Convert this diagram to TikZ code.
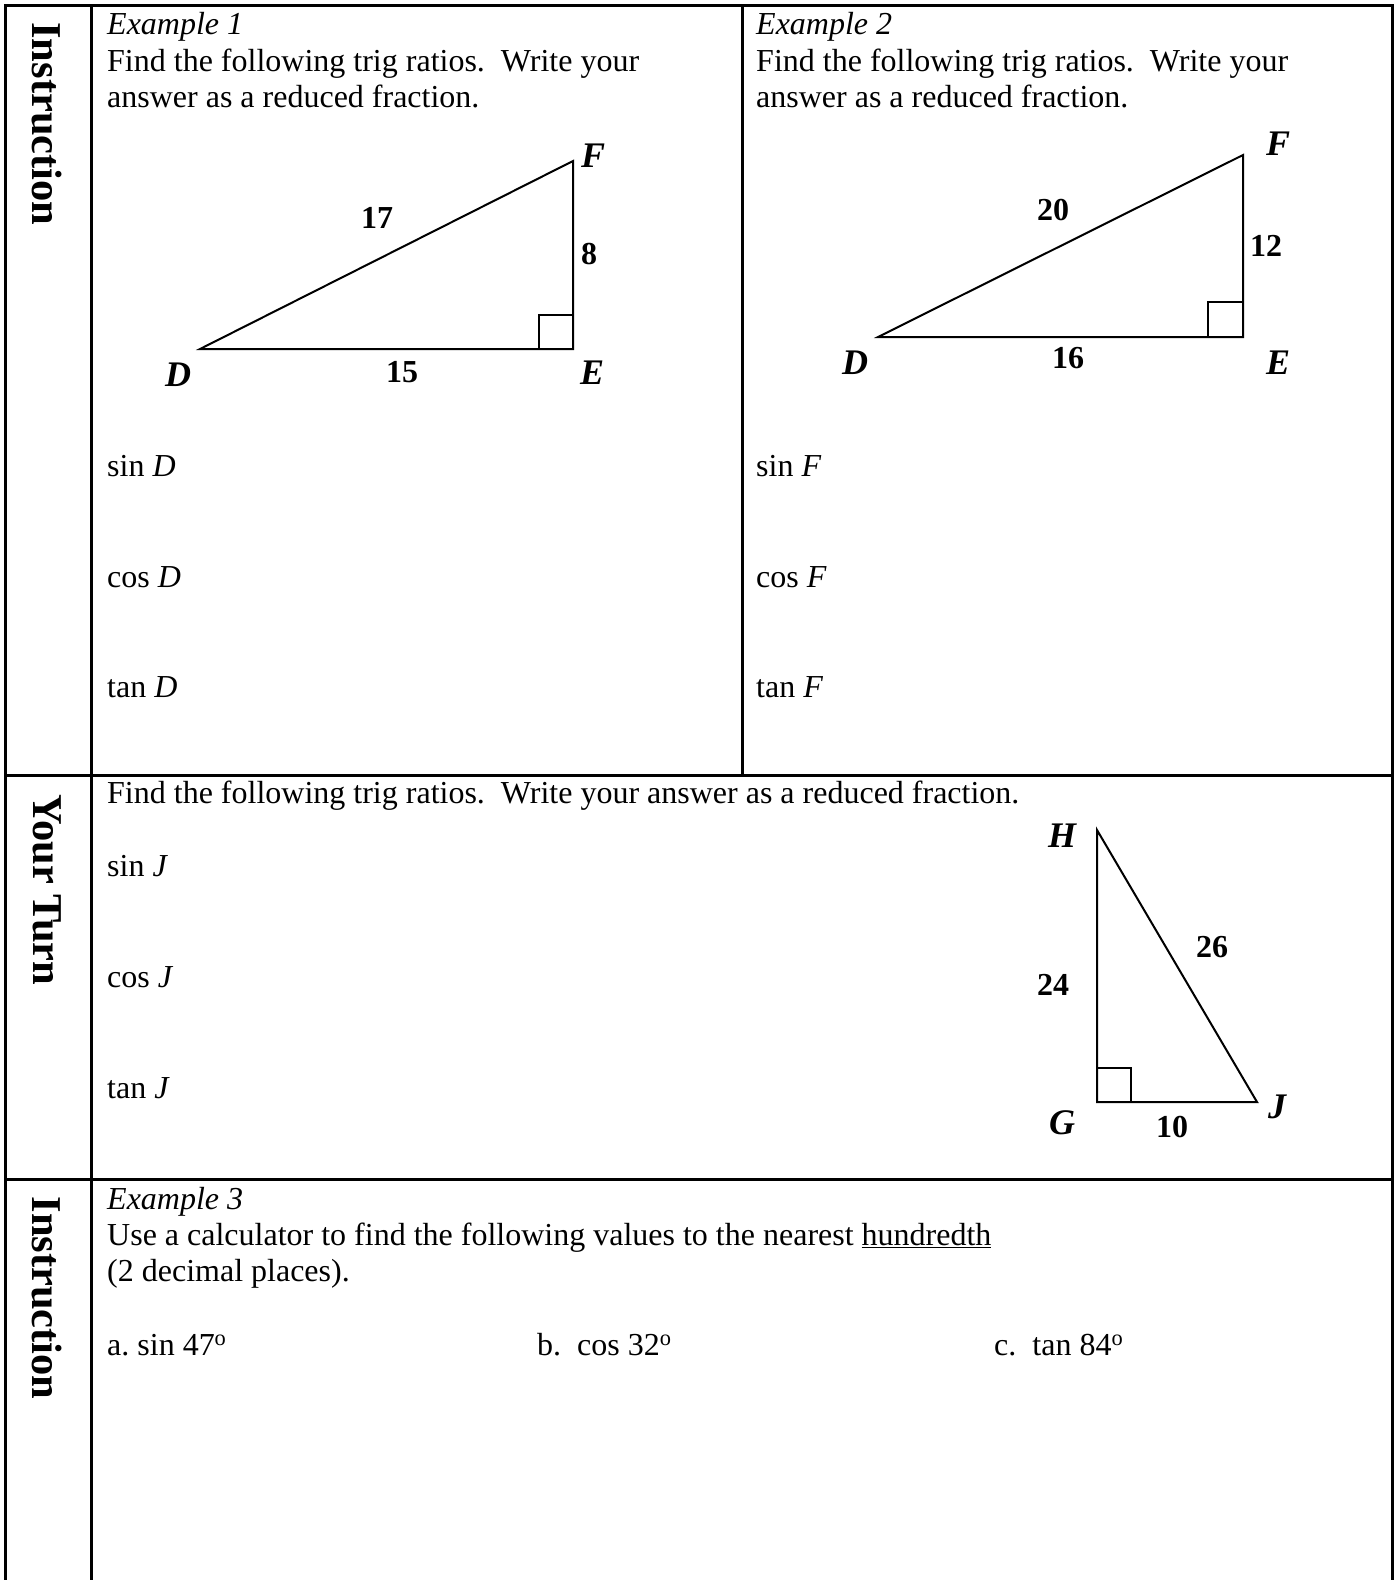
\documentclass[tikz,border=0pt]{standalone}
\usepackage{fontspec}
\setmainfont{Liberation Serif}
\usepackage{tikz}
\usetikzlibrary{positioning}

\tikzset{
  txt/.style={anchor=base west, inner sep=0pt, font=\fontsize{32}{36.3}\selectfont},
  sidelbl/.style={rotate=-90, inner sep=0pt, font=\fontsize{42.5}{48}\selectfont\bfseries},
  vtx/.style={inner sep=0pt, font=\fontsize{36}{40}\selectfont\bfseries\itshape},
  len/.style={inner sep=0pt, font=\fontsize{32}{36}\selectfont\bfseries},
  gridline/.style={line width=3pt},
  tri/.style={line width=2pt, line join=miter},
}

\begin{document}
\begin{tikzpicture}[x=1pt,y=-1pt]
  \useasboundingbox (0,0) rectangle (1395,1580);
  % table frame
  \draw[gridline] (5,1580) -- (5,5) -- (1392,5) -- (1392,1580);
  \draw[gridline] (91,5) -- (91,1580);
  \draw[gridline] (742,5) -- (742,775);
  \draw[gridline] (5,775) -- (1392,775);
  \draw[gridline] (5,1179) -- (1392,1179);

  % side labels
  \node[sidelbl] (side1) at (47,124) {Instruction};
  \node[sidelbl] (side2) at (47,890) {Your Turn};
  \node[sidelbl] (side3) at (47,1298) {Instruction};

  % Example 1
  \node[txt] (ex1) at (107,34) {\textit{Example 1}};
  \node[txt] (ex1a) at (107,71) {Find the following trig ratios.\ \ Write your};
  \node[txt] (ex1b) at (107,107) {answer as a reduced fraction.};
  \coordinate (D1) at (200,349);
  \coordinate (E1) at (573,349);
  \coordinate (F1) at (573,161);
  \draw[tri] (D1) -- (E1) -- (F1) -- cycle;
  \draw[tri] (E1) ++(-34,0) -- ++(0,-34) -- ++(34,0);
  \node[vtx] (lD1) at (178,375) {D};
  \node[vtx] (lE1) at (592,373) {E};
  \node[vtx] (lF1) at (593,156) {F};
  \node[len] (s17) at (377,218) {17};
  \node[len] (s8) at (589,254) {8};
  \node[len] (s15) at (402,372) {15};
  \node[txt] (sinD) at (107,476) {sin \textit{D}};
  \node[txt] (cosD) at (107,587) {cos \textit{D}};
  \node[txt] (tanD) at (107,697) {tan \textit{D}};

  % Example 2
  \node[txt] (ex2) at (756,34) {\textit{Example 2}};
  \node[txt] (ex2a) at (756,71) {Find the following trig ratios.\ \ Write your};
  \node[txt] (ex2b) at (756,107) {answer as a reduced fraction.};
  \coordinate (D2) at (878,337);
  \coordinate (E2) at (1243,337);
  \coordinate (F2) at (1243,155);
  \draw[tri] (D2) -- (E2) -- (F2) -- cycle;
  \draw[tri] (E2) ++(-35,0) -- ++(0,-35) -- ++(35,0);
  \node[vtx] (lD2) at (855,363) {D};
  \node[vtx] (lE2) at (1278,363) {E};
  \node[vtx] (lF2) at (1278,144) {F};
  \node[len] (s20) at (1053,210) {20};
  \node[len] (s12) at (1266,246) {12};
  \node[len] (s16) at (1068,358) {16};
  \node[txt] (sinF) at (756,476) {sin \textit{F}};
  \node[txt] (cosF) at (756,587) {cos \textit{F}};
  \node[txt] (tanF) at (756,697) {tan \textit{F}};

  % Your turn
  \node[txt] (yt) at (107,803) {Find the following trig ratios.\ \ Write your answer as a reduced fraction.};
  \coordinate (G3) at (1097,1102);
  \coordinate (J3) at (1257,1102);
  \coordinate (H3) at (1097,830);
  \draw[tri] (G3) -- (J3) -- (H3) -- cycle;
  \draw[tri] (G3) ++(34,0) -- ++(0,-34) -- ++(-34,0);
  \node[vtx] (lH3) at (1062,836) {H};
  \node[vtx] (lG3) at (1062,1123) {G};
  \node[vtx] (lJ3) at (1277,1107) {J};
  \node[len] (s26) at (1212,947) {26};
  \node[len] (s24) at (1053,985) {24};
  \node[len] (s10) at (1172,1127) {10};
  \node[txt] (sinJ) at (107,876) {sin \textit{J}};
  \node[txt] (cosJ) at (107,987) {cos \textit{J}};
  \node[txt] (tanJ) at (107,1098) {tan \textit{J}};

  % Example 3
  \node[txt] (ex3) at (107,1209) {\textit{Example 3}};
  \node[txt] (ex3a) at (107,1245) {Use a calculator to find the following values to the nearest \underline{hundredth}};
  \node[txt] (ex3b) at (107,1281) {(2 decimal places).};
  \node[txt] (qa) at (107,1355) {a.\ sin 47\textsuperscript{o}};
  \node[txt] (qb) at (537,1355) {b.\ \ cos 32\textsuperscript{o}};
  \node[txt] (qc) at (994,1355) {c.\ \ tan 84\textsuperscript{o}};
\end{tikzpicture}
\end{document}
